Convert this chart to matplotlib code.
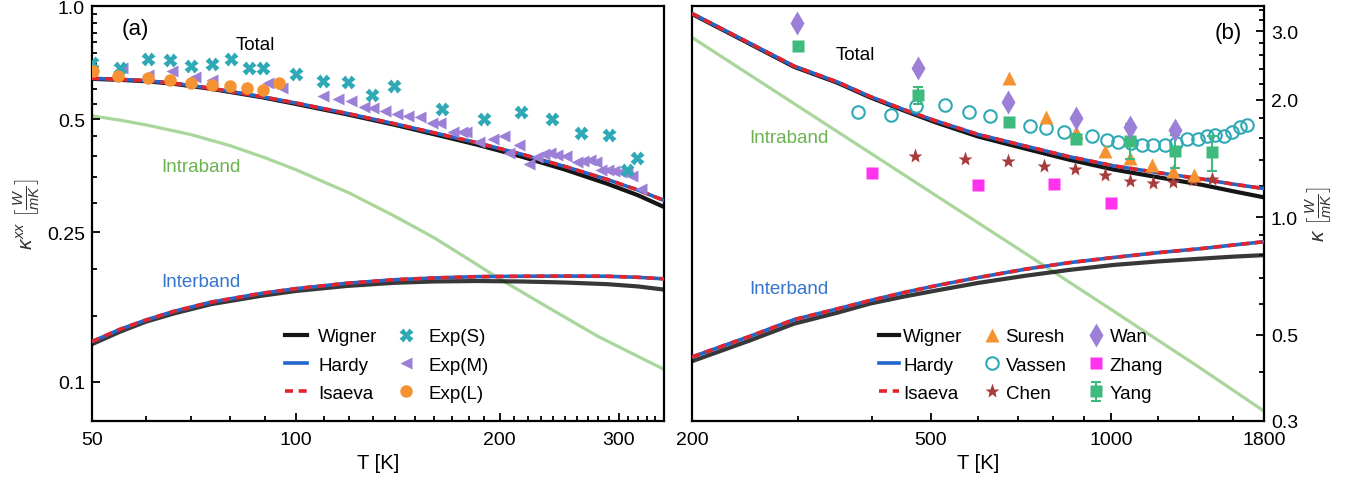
import matplotlib
matplotlib.use("Agg")
import matplotlib.pyplot as plt
from matplotlib.ticker import FixedLocator, FixedFormatter, NullFormatter

plt.rcParams["font.family"] = ["Liberation Sans", "DejaVu Sans"]
plt.rcParams["mathtext.fontset"] = "custom"
plt.rcParams["mathtext.rm"] = "Liberation Sans"
plt.rcParams["mathtext.it"] = "Liberation Sans:italic"
plt.rcParams["mathtext.bf"] = "Liberation Sans:bold"

# ---------------- panel (a) ----------------
t_a = [50, 55, 60, 66, 75, 89, 100, 119, 140, 160, 185, 215, 250, 288, 320, 350]
total_hardy_a = [0.642, 0.638, 0.633, 0.623, 0.604, 0.574, 0.552, 0.518, 0.486, 0.460,
                 0.433, 0.404, 0.374, 0.346, 0.324, 0.304]
total_wigner_a = [0.640, 0.636, 0.631, 0.621, 0.602, 0.572, 0.549, 0.515, 0.483, 0.456,
                  0.428, 0.398, 0.367, 0.337, 0.314, 0.292]
inter_hardy_a = [0.128, 0.138, 0.146, 0.154, 0.163, 0.172, 0.177, 0.183, 0.187, 0.189,
                 0.1905, 0.191, 0.1912, 0.191, 0.1898, 0.188]
inter_wigner_a = [0.126, 0.136, 0.1445, 0.152, 0.161, 0.1695, 0.1745, 0.180, 0.1835, 0.185,
                  0.1855, 0.185, 0.1838, 0.182, 0.1795, 0.176]
t_intra_a = [50, 55, 60, 70, 80, 90, 100, 120, 140, 160, 180, 200, 240, 280, 320, 350]
intra_a = [0.51, 0.497, 0.483, 0.455, 0.425, 0.395, 0.367, 0.318, 0.276, 0.242, 0.212,
           0.188, 0.155, 0.132, 0.117, 0.108]

exp_s_t = [50, 55, 60.4, 65.2, 70, 75.1, 80.3, 85.2, 89.6, 100, 109.6, 119.6, 129.7,
           139.6, 164.7, 189.7, 215.3, 239.1, 264.3, 290, 309, 319.6]
exp_s_k = [0.707, 0.686, 0.722, 0.719, 0.693, 0.700, 0.722, 0.686, 0.686, 0.659, 0.633,
           0.626, 0.581, 0.614, 0.533, 0.501, 0.522, 0.501, 0.458, 0.455, 0.367, 0.393]
exp_m_t = [55.3, 60.4, 65.6, 70.9, 75.3, 91, 95.5, 109.8, 115.5, 120.8, 126, 130.1, 135.4,
           140.9, 146.6, 152.5, 158.9, 163.5, 170.8, 175.8, 178.4, 186.5, 195.3, 202.9,
           206.6, 213.9, 221.4, 227.2, 232.3, 237.6, 242.9, 250.4, 260, 265.9, 271.9,
           277.3, 282.4, 288.9, 295.6, 302.5, 308.5, 314.2, 324]
exp_m_k = [0.682, 0.656, 0.670, 0.648, 0.636, 0.624, 0.605, 0.575, 0.566, 0.558, 0.540,
           0.536, 0.527, 0.517, 0.511, 0.508, 0.488, 0.488, 0.462, 0.462, 0.462, 0.435,
           0.444, 0.450, 0.406, 0.426, 0.381, 0.397, 0.404, 0.406, 0.401, 0.400, 0.385,
           0.387, 0.389, 0.385, 0.367, 0.366, 0.364, 0.362, 0.359, 0.352, 0.325]
exp_l_t = [50.1, 54.6, 60.4, 65.2, 70, 75.1, 79.9, 84.8, 89.6, 94.6]
exp_l_k = [0.670, 0.652, 0.643, 0.636, 0.623, 0.617, 0.614, 0.605, 0.598, 0.623]

# ---------------- panel (b) ----------------
t_b = [200, 250, 296, 350, 396, 450, 510, 600, 718, 850, 1010, 1200, 1420, 1600, 1800]
total_hardy_b = [3.33, 2.79, 2.44, 2.22, 2.04, 1.89, 1.766, 1.63, 1.523, 1.43, 1.354,
                 1.30, 1.252, 1.215, 1.184]
total_wigner_b = [3.32, 2.78, 2.43, 2.21, 2.03, 1.88, 1.75, 1.61, 1.50, 1.405, 1.325,
                  1.265, 1.21, 1.165, 1.124]
inter_hardy_b = [0.438, 0.495, 0.546, 0.582, 0.611, 0.640, 0.667, 0.700, 0.735, 0.764,
                 0.788, 0.811, 0.831, 0.848, 0.865]
inter_wigner_b = [0.427, 0.483, 0.533, 0.569, 0.600, 0.625, 0.648, 0.678, 0.707, 0.732,
                  0.754, 0.770, 0.783, 0.792, 0.799]
t_intra_b = [200, 300, 500, 700, 1000, 1400, 1800]
intra_b = [2.89, 1.93, 1.16, 0.83, 0.58, 0.413, 0.318]

suresh_t = [676, 779, 873, 979, 1076, 1171, 1269, 1377]
suresh_k = [2.28, 1.81, 1.65, 1.48, 1.417, 1.357, 1.317, 1.284]
vassen_t = [379, 429, 473, 528, 580, 629, 733, 779, 834, 930, 984, 1027, 1081, 1128,
            1177, 1229, 1282, 1337, 1396, 1444, 1489, 1546, 1594, 1641, 1683]
vassen_k = [1.866, 1.829, 1.924, 1.939, 1.866, 1.821, 1.717, 1.690, 1.656, 1.611, 1.579,
            1.560, 1.548, 1.530, 1.530, 1.530, 1.548, 1.586, 1.591, 1.611, 1.624, 1.611,
            1.65, 1.70, 1.72]
chen_t = [471, 570, 673, 773, 870, 976, 1076, 1173, 1271, 1372, 1473]
chen_k = [1.437, 1.409, 1.39, 1.354, 1.33, 1.282, 1.240, 1.220, 1.232, 1.244, 1.252]
wan_t = [299, 476, 673, 873, 1076, 1277]
wan_k = [3.15, 2.42, 1.969, 1.791, 1.70, 1.674]
zhang_t = [399, 601, 802, 1001]
zhang_k = [1.30, 1.208, 1.213, 1.086]
yang_t = [300, 476, 675, 873, 1076, 1277, 1474]
yang_k = [2.75, 2.053, 1.757, 1.586, 1.570, 1.48, 1.467]
yang_err = [0.05, 0.10, 0.04, 0.05, 0.16, 0.14, 0.15]

BLACK = "#151515"
BLUE = "#2366c9"
RED = "#e4232b"
GREEN = "#a9d69b"
CYAN = "#2fa9b6"
PURPLE = "#9c80d8"
ORANGE = "#f59232"
LBL = 13.5

fig = plt.figure(figsize=(13.64, 4.85), dpi=100)
ax1 = fig.add_axes([92 / 1364, 63 / 485, 572 / 1364, 415 / 485])
ax2 = fig.add_axes([692 / 1364, 63 / 485, 572 / 1364, 415 / 485])


def draw_theory(ax, t, tw, th, iw, ih, ti, intra):
    ax.plot(ti, intra, color=GREEN, lw=2.3, zorder=1)
    w, = ax.plot(t, tw, color=BLACK, lw=3.0, zorder=2, label="Wigner")
    ax.plot(t, iw, color=BLACK, lw=3.0, alpha=0.85, zorder=2)
    h, = ax.plot(t, th, color=BLUE, lw=2.6, zorder=3, label="Hardy")
    ax.plot(t, ih, color=BLUE, lw=2.6, zorder=3)
    i, = ax.plot(t, th, color=RED, lw=2.6, dashes=(2.2, 1.6), zorder=4, label="Isaeva")
    ax.plot(t, ih, color=RED, lw=2.6, dashes=(2.2, 1.6), zorder=4)
    return [w, h, i]


def style_axis(ax):
    ax.tick_params(which="both", direction="in", labelsize=14, width=1.3)
    ax.tick_params(axis="x", which="both", pad=7)
    ax.tick_params(axis="y", which="both", pad=5)
    ax.tick_params(which="major", length=6)
    ax.tick_params(which="minor", length=3.5)
    ax.set_xlabel("T [K]", fontsize=14.5)
    for sp in ax.spines.values():
        sp.set_linewidth(1.6)


# panel (a)
lines_a = draw_theory(ax1, t_a, total_wigner_a, total_hardy_a, inter_wigner_a,
                      inter_hardy_a, t_intra_a, intra_a)
m, = ax1.plot(exp_m_t, exp_m_k, "<", color=PURPLE, ms=9, mec="none", zorder=5, label="Exp(M)")
s, = ax1.plot(exp_s_t, exp_s_k, "X", color=CYAN, ms=10, mec="none", zorder=6, label="Exp(S)")
l, = ax1.plot(exp_l_t, exp_l_k, "o", color=ORANGE, ms=9, mec="none", zorder=7, label="Exp(L)")

ax1.set_xscale("log")
ax1.set_yscale("log")
ax1.set_xlim(50, 350)
ax1.set_ylim(0.0787, 1.0)
ax1.xaxis.set_major_locator(FixedLocator([50, 100, 200, 300]))
ax1.xaxis.set_major_formatter(FixedFormatter(["50", "100", "200", "300"]))
ax1.xaxis.set_minor_locator(FixedLocator([t for t in range(60, 351, 10) if t not in (100, 200, 300)]))
ax1.xaxis.set_minor_formatter(NullFormatter())
ax1.yaxis.set_major_locator(FixedLocator([0.1, 0.25, 0.5, 1.0]))
ax1.yaxis.set_major_formatter(FixedFormatter(["0.1", "0.25", "0.5", "1.0"]))
ax1.yaxis.set_minor_locator(FixedLocator([0.15, 0.2, 0.3, 0.35, 0.4, 0.45, 0.55, 0.6, 0.65,
                                          0.7, 0.75, 0.8, 0.85, 0.9, 0.95]))
ax1.yaxis.set_minor_formatter(NullFormatter())
ax1.tick_params(which="both", top=False, right=False)
style_axis(ax1)
ax1.set_ylabel(r"$\kappa^{xx}$ $\left[\frac{W}{mK}\right]$", fontsize=15, color="#333333")

ax1.text(0.075, 0.945, "(a)", fontsize=16, ha="center", va="center", transform=ax1.transAxes)
ax1.text(0.285, 0.908, "Total", fontsize=LBL, ha="center", va="center", transform=ax1.transAxes)
ax1.text(0.19, 0.614, "Intraband", fontsize=LBL, ha="center", va="center", color="#6ab34f",
         transform=ax1.transAxes)
ax1.text(0.19, 0.335, "Interband", fontsize=LBL, ha="center", va="center", color="#3575cf",
         transform=ax1.transAxes)

ax1.legend(lines_a + [s, m, l], ["Wigner", "Hardy", "Isaeva", "Exp(S)", "Exp(M)", "Exp(L)"],
           ncol=2, frameon=False, loc="center", bbox_to_anchor=(0.515, 0.135),
           fontsize=13.5, handlelength=1.2, handletextpad=0.6, columnspacing=0.9,
           labelspacing=0.6, numpoints=1, borderaxespad=0)

# panel (b)
lines_b = draw_theory(ax2, t_b, total_wigner_b, total_hardy_b, inter_wigner_b,
                      inter_hardy_b, t_intra_b, intra_b)
zh, = ax2.plot(zhang_t, zhang_k, "s", color="#ff33ee", ms=9, mec="none", zorder=5, label="Zhang")
ch, = ax2.plot(chen_t, chen_k, "*", color="#a83c3c", ms=11, mec="none", zorder=5, label="Chen")
vs, = ax2.plot(vassen_t, vassen_k, "o", mfc="none", mec=CYAN, mew=1.5, ms=9, zorder=5,
               label="Vassen")
su, = ax2.plot(suresh_t, suresh_k, "^", color=ORANGE, ms=10, mec="none", zorder=6, label="Suresh")
ya = ax2.errorbar(yang_t, yang_k, yerr=yang_err, fmt="s", color="#3dba7c", ms=9, mec="none",
                  capsize=3.5, elinewidth=1.5, capthick=1.5, zorder=7, label="Yang")
wa, = ax2.plot(wan_t, wan_k, "d", color=PURPLE, ms=12, mec="none", zorder=8, label="Wan")

ax2.set_xscale("log")
ax2.set_yscale("log")
ax2.set_xlim(200, 1800)
ax2.set_ylim(0.3, 3.48)
ax2.xaxis.set_major_locator(FixedLocator([200, 500, 1000, 1800]))
ax2.xaxis.set_major_formatter(FixedFormatter(["200", "500", "1000", "1800"]))
ax2.xaxis.set_minor_locator(FixedLocator([300, 400, 600, 700, 800, 900, 1200, 1400, 1600]))
ax2.xaxis.set_minor_formatter(NullFormatter())
ax2.yaxis.tick_right()
ax2.yaxis.set_label_position("right")
ax2.yaxis.set_major_locator(FixedLocator([0.3, 0.5, 1.0, 2.0, 3.0]))
ax2.yaxis.set_major_formatter(FixedFormatter(["0.3", "0.5", "1.0", "2.0", "3.0"]))
ax2.yaxis.set_minor_locator(FixedLocator([0.4, 0.6, 0.7, 0.8, 0.9, 1.2, 1.4, 1.6, 1.8,
                                          2.2, 2.4, 2.6, 2.8, 3.2, 3.4]))
ax2.yaxis.set_minor_formatter(NullFormatter())
ax2.tick_params(which="both", top=False, left=False)
style_axis(ax2)
ax2.set_ylabel(r"$\kappa$ $\left[\frac{W}{mK}\right]$", fontsize=15, color="#333333")

ax2.text(0.937, 0.937, "(b)", fontsize=16, ha="center", va="center", transform=ax2.transAxes)
ax2.text(0.285, 0.884, "Total", fontsize=LBL, ha="center", va="center", transform=ax2.transAxes)
ax2.text(0.17, 0.684, "Intraband", fontsize=LBL, ha="center", va="center", color="#6ab34f",
         transform=ax2.transAxes)
ax2.text(0.17, 0.320, "Interband", fontsize=LBL, ha="center", va="center", color="#3575cf",
         transform=ax2.transAxes)

ax2.legend(lines_b + [su, vs, ch, wa, zh, ya],
           ["Wigner", "Hardy", "Isaeva", "Suresh", "Vassen", "Chen", "Wan", "Zhang", "Yang"],
           ncol=3, frameon=False, loc="center", bbox_to_anchor=(0.575, 0.135),
           fontsize=13.5, handlelength=1.1, handletextpad=0.2, columnspacing=1.0,
           labelspacing=0.6, numpoints=1, borderaxespad=0)

fig.savefig("out.png", dpi=100)
